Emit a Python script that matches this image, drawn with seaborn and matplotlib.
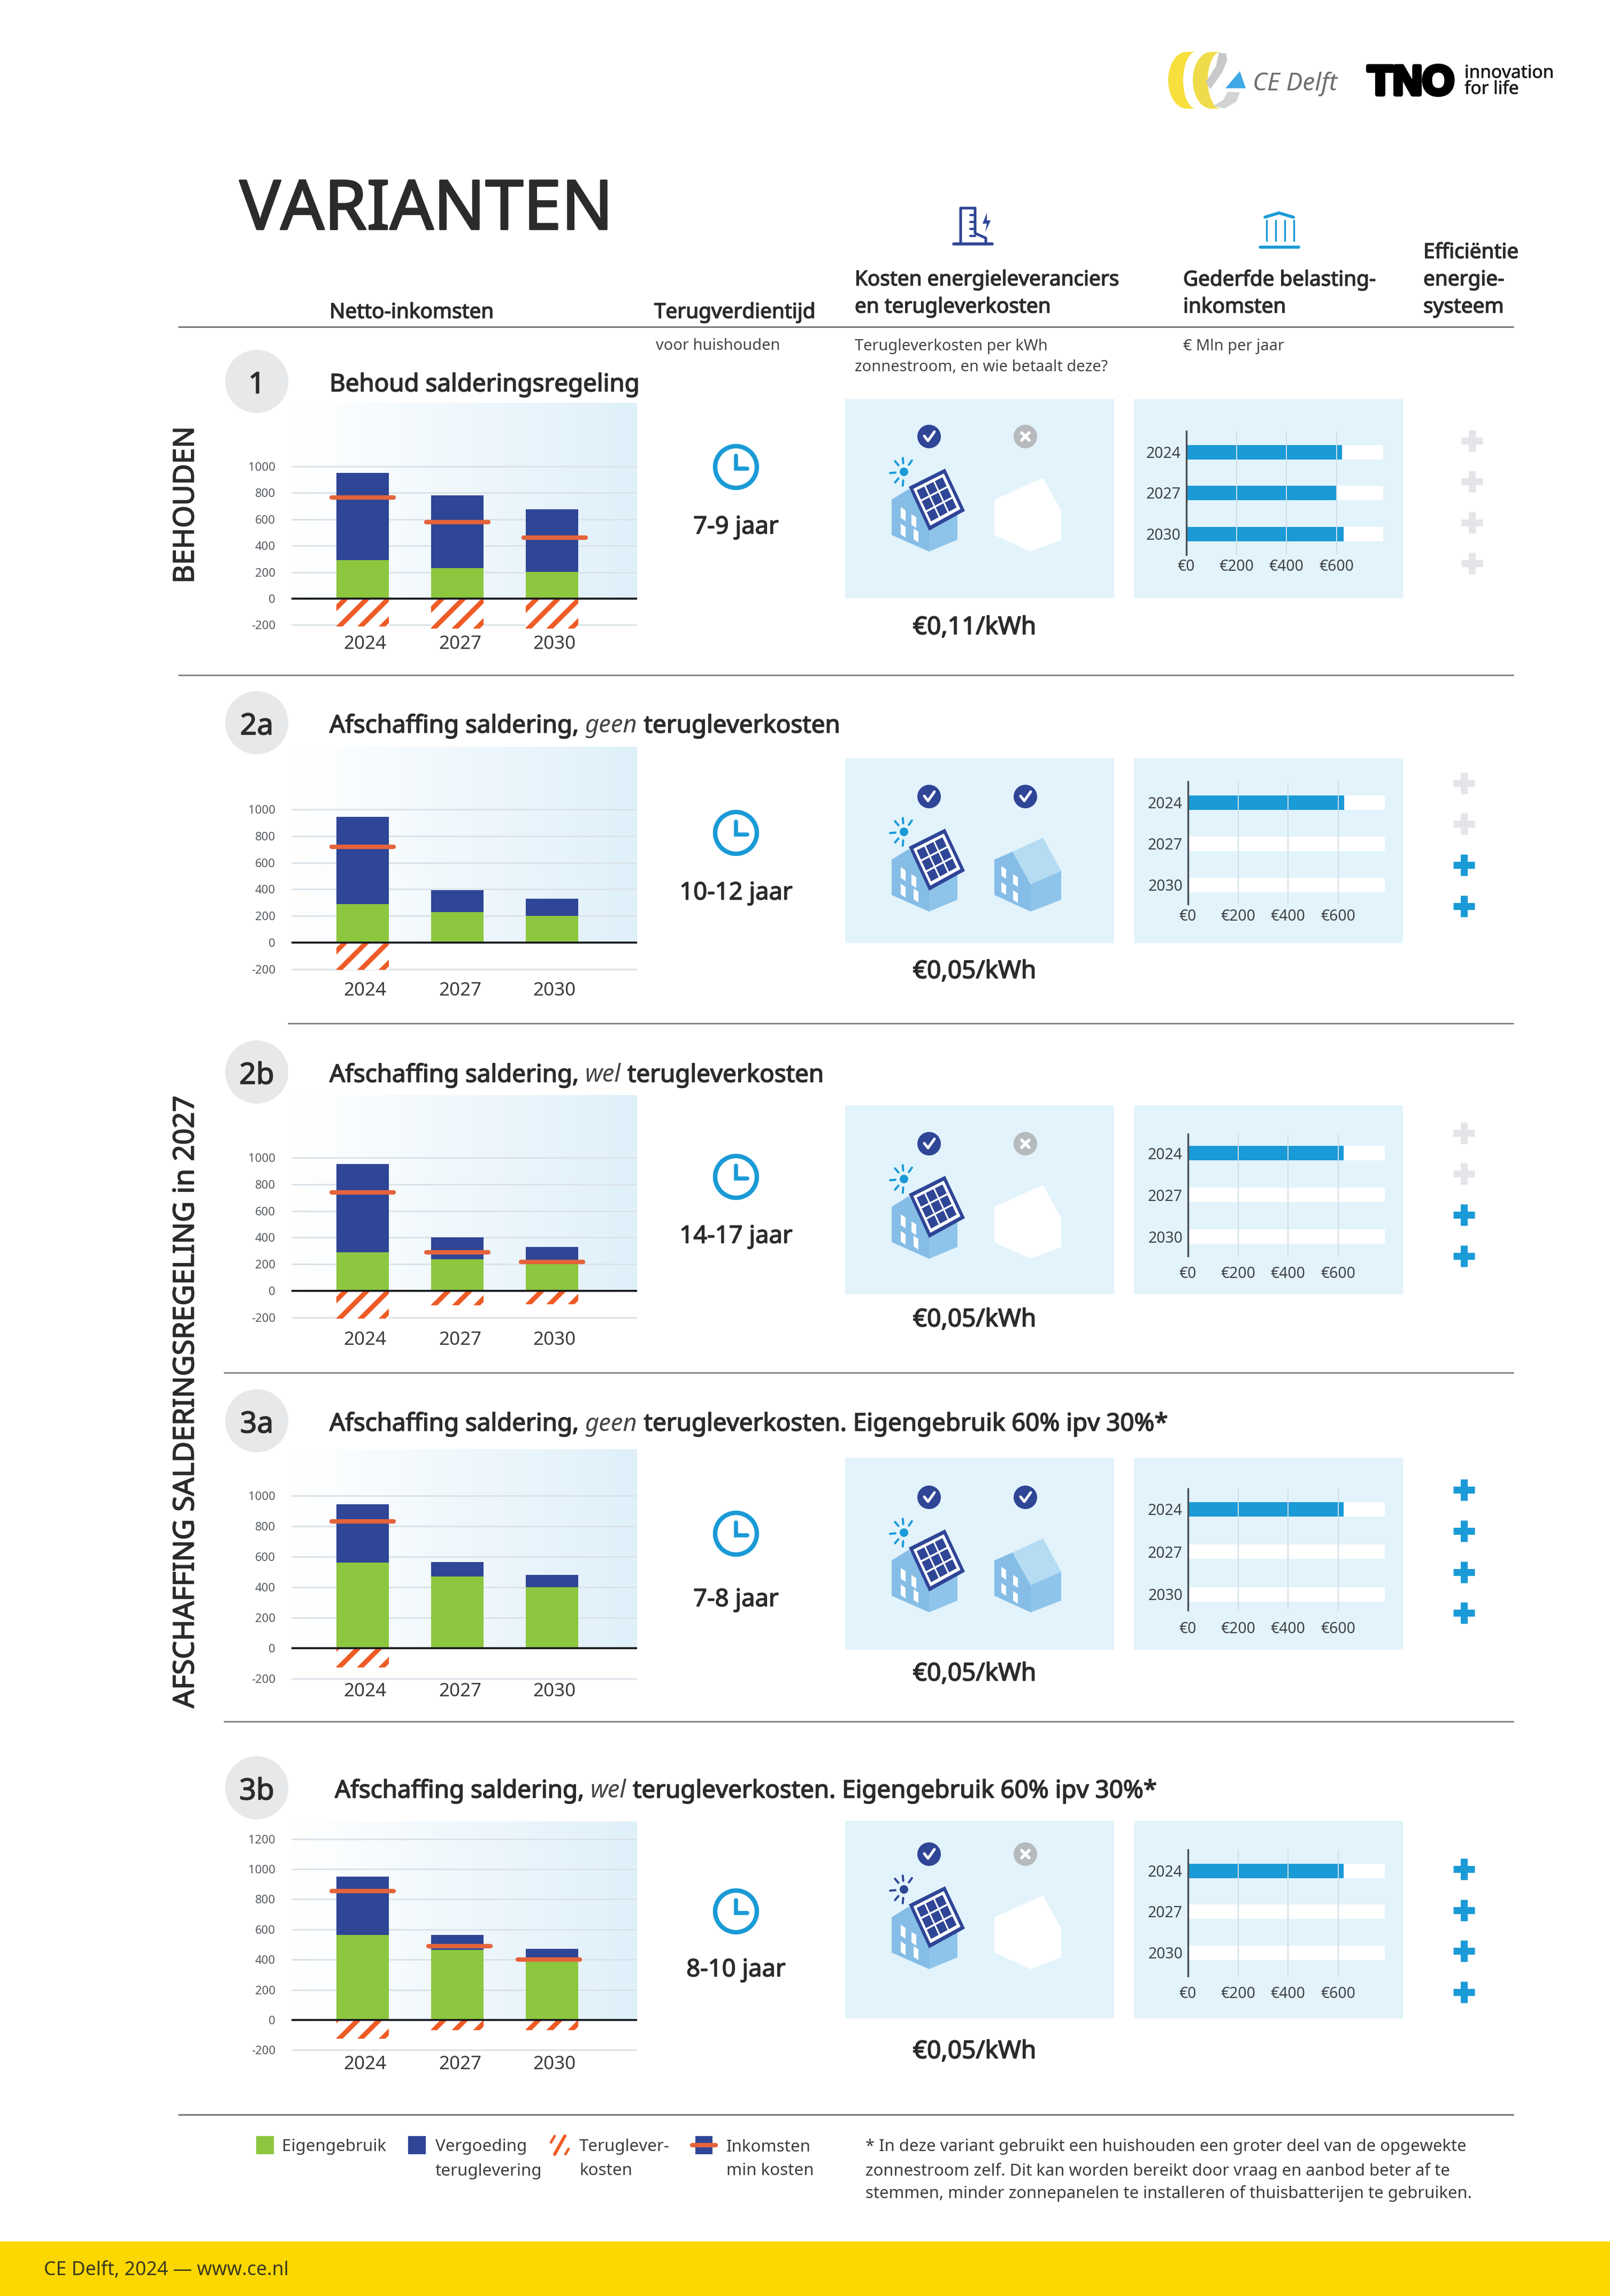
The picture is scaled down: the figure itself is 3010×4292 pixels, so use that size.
import numpy as np
import pandas as pd
import matplotlib
matplotlib.use('Agg')
import matplotlib.pyplot as plt
import matplotlib.patheffects as pe
import seaborn as sns
from matplotlib.colors import LinearSegmentedColormap
from matplotlib.lines import Line2D
from matplotlib.patches import Circle, Ellipse, Polygon, Rectangle
from matplotlib.transforms import ScaledTranslation

sns.set_theme(style='white')
plt.rcParams['font.family'] = ['Noto Sans', 'DejaVu Sans']

# data
YEARS = ['2024', '2027', '2030']

eigen_1 = [291, 231, 202]
verg_1 = [659, 549, 476]
kosten_1 = [-212, -225, -225]
inkomsten_1 = [765, 578, 460]
belasting_1 = [622, 603, 628]
plus_1 = [0, 0, 0, 0]

eigen_2a = [290, 230, 200]
verg_2a = [655, 165, 130]
kosten_2a = [-205, 0, 0]
inkomsten_2a = [720, None, None]
belasting_2a = [625, 0, 0]
plus_2a = [0, 0, 1, 1]

eigen_2b = [290, 235, 200]
verg_2b = [660, 165, 130]
kosten_2b = [-210, -110, -100]
inkomsten_2b = [740, 290, 215]
belasting_2b = [622, 0, 0]
plus_2b = [0, 0, 1, 1]

eigen_3a = [560, 470, 400]
verg_3a = [385, 95, 80]
kosten_3a = [-125, 0, 0]
inkomsten_3a = [830, None, None]
belasting_3a = [622, 0, 0]
plus_3a = [1, 1, 1, 1]

eigen_3b = [565, 466, 398]
verg_3b = [386, 99, 75]
kosten_3b = [-125, -67, -67]
inkomsten_3b = [856, 490, 402]
belasting_3b = [622, 0, 0]
plus_3b = [1, 1, 1, 1]

TRACK = [790, 790, 790]

NAVY = '#2f4596'
GREEN = '#8dc63f'
ORANGE = '#ef5b25'
RED = '#e4633c'
BLUE = '#1a9ad6'
PANEL = '#e2f3fb'
DARK = '#2b2b2b'
GREY = '#555a5f'
PLUS_OFF = '#e3e5e8'

W, H = 3010, 4292
DPI = 240

# pixel layout per row
ROWS = [
    dict(no='1', title=[('Behoud salderingsregeling', 0)], title_x=616, title_y=714,
         eigen=eigen_1, verg=verg_1, kosten=kosten_1, ink=inkomsten_1, bel=belasting_1, plus=plus_1,
         bg_top=753, y0=1119, y1000=872, label_y=1202, ticks=[-200, 0, 200, 400, 600, 800, 1000],
         line_shift=[0, 0, 5],
         clock_y=873, jaar='7-9 jaar', jaar_y=980, prijs='€0,11/kWh', prijs_y=1168,
         box=(746, 1118), check_y=816, both=False,
         bar_ys=(845, 921, 998), axis=(806, 1037), tick_y=1056, axis_x=2218,
         plus_x=2752, plus_ys=(824, 900, 977, 1053)),
    dict(no='2a', title=[('Afschaffing saldering,', 0), ('geen', 1), ('terugleverkosten', 0)], title_x=616, title_y=1352,
         eigen=eigen_2a, verg=verg_2a, kosten=kosten_2a, ink=inkomsten_2a, bel=belasting_2a, plus=plus_2a,
         bg_top=1396, y0=1762, y1000=1513, label_y=1850, ticks=[-200, 0, 200, 400, 600, 800, 1000],
         line_shift=[0, 0, 0],
         clock_y=1557, jaar='10-12 jaar', jaar_y=1664, prijs='€0,05/kWh', prijs_y=1811,
         box=(1417, 1763), check_y=1489, both=True,
         bar_ys=(1500, 1577, 1654), axis=(1461, 1690), tick_y=1710, axis_x=2221,
         plus_x=2737, plus_ys=(1464, 1540, 1617, 1694)),
    dict(no='2b', title=[('Afschaffing saldering,', 0), ('wel', 1), ('terugleverkosten', 0)], title_x=616, title_y=2005,
         eigen=eigen_2b, verg=verg_2b, kosten=kosten_2b, ink=inkomsten_2b, bel=belasting_2b, plus=plus_2b,
         bg_top=2047, y0=2413, y1000=2164, label_y=2503, ticks=[-200, 0, 200, 400, 600, 800, 1000],
         line_shift=[0, 0, 0],
         clock_y=2200, jaar='14-17 jaar', jaar_y=2306, prijs='€0,05/kWh', prijs_y=2462,
         box=(2066, 2419), check_y=2138, both=False,
         bar_ys=(2156, 2235, 2312), axis=(2120, 2348), tick_y=2378, axis_x=2221,
         plus_x=2737, plus_ys=(2118, 2194, 2271, 2348)),
    dict(no='3a', title=[('Afschaffing saldering,', 0), ('geen', 1), ('terugleverkosten. Eigengebruik 60% ipv 30%*', 0)], title_x=616, title_y=2657,
         eigen=eigen_3a, verg=verg_3a, kosten=kosten_3a, ink=inkomsten_3a, bel=belasting_3a, plus=plus_3a,
         bg_top=2709, y0=3081, y1000=2796, label_y=3160, ticks=[-200, 0, 200, 400, 600, 800, 1000],
         line_shift=[0, 0, 0],
         clock_y=2867, jaar='7-8 jaar', jaar_y=2985, prijs='€0,05/kWh', prijs_y=3124,
         box=(2725, 3084), check_y=2799, both=True,
         bar_ys=(2821, 2900, 2980), axis=(2783, 3010), tick_y=3042, axis_x=2221,
         plus_x=2737, plus_ys=(2785, 2862, 2939, 3015)),
    dict(no='3b', title=[('Afschaffing saldering,', 0), ('wel', 1), ('terugleverkosten. Eigengebruik 60% ipv 30%*', 0)], title_x=626, title_y=3343,
         eigen=eigen_3b, verg=verg_3b, kosten=kosten_3b, ink=inkomsten_3b, bel=belasting_3b, plus=plus_3b,
         bg_top=3405, y0=3776, y1000=3494, label_y=3857, ticks=[-200, 0, 200, 400, 600, 800, 1000, 1200],
         line_shift=[0, 4, -6],
         clock_y=3573, jaar='8-10 jaar', jaar_y=3677, prijs='€0,05/kWh', prijs_y=3830,
         box=(3404, 3773), check_y=3466, both=False, dark_sun=True,
         bar_ys=(3497, 3573, 3650), axis=(3458, 3694), tick_y=3724, axis_x=2221,
         plus_x=2737, plus_ys=(3494, 3571, 3647, 3724)),
]

fig = plt.figure(figsize=(W / DPI, H / DPI), dpi=DPI, facecolor='white')
ov = fig.add_axes([0, 0, 1, 1], zorder=0)
ov.set_axis_off()


def reset_overlay():
    ov.set_xlim(0, W)
    ov.set_ylim(H, 0)


reset_overlay()


def box_axes(x0, y0, x1, y1):
    ax = fig.add_axes([x0 / W, 1 - y1 / H, (x1 - x0) / W, (y1 - y0) / H], zorder=2)
    ax.patch.set_alpha(0)
    return ax


def put(x, y, s, size, heavy=0, ha='left', color=DARK, **kw):
    # geen semibold beschikbaar, dus dikker maken met een dunne rand
    t = ov.text(x, y, s, fontsize=size, ha=ha, va='center_baseline', color=color, **kw)
    if heavy:
        t.set_path_effects([pe.withStroke(linewidth=heavy, foreground=color)])
    return t


def poly(points, color, dx=0, dy=0, z=3):
    ov.add_patch(Polygon([(px + dx, py + dy) for px, py in points], closed=True, fc=color, ec='none', zorder=z))


def stripe_bar(ax, bar, step=40):
    # oranje schuine strepen, geknipt op de balk
    bb = bar.get_window_extent()
    if bb.height < 1:
        return
    h = bb.height + 20
    bottom, top = H - bb.y0 + 10, H - bb.y1 - 10
    for xs in np.arange(bb.x0 + 5 - 10 - 4 * step, bb.x1 + 10, step):
        line = Line2D([xs, xs + h], [bottom, top], color=ORANGE, lw=2.7, transform=ov.transData,
                      solid_capstyle='butt', zorder=3)
        ax.add_line(line)
        line.set_clip_path(bar)


def mixed_title(x, y, parts):
    renderer = fig.canvas.get_renderer()
    for part, italic in parts:
        if italic:
            t = put(x, y, part, 13.6, style='italic', color='#444444')
        else:
            t = put(x, y, part, 13.7, heavy=0.5)
        x += t.get_window_extent(renderer).width + 12


def draw_income_chart(row):
    unit = (row['y0'] - row['y1000']) / 1000
    bottom_px = row['y0'] + 200 * unit + 6
    ax = box_axes(545, row['bg_top'], 1191, bottom_px)
    df = pd.DataFrame({
        'jaar': YEARS,
        'eigen': row['eigen'],
        'totaal': np.add(row['eigen'], row['verg']),
        'kosten': row['kosten'],
    })
    sns.barplot(data=df, x='jaar', y='totaal', color=NAVY, saturation=1, width=0.554, linewidth=0, ax=ax)
    sns.barplot(data=df, x='jaar', y='eigen', color=GREEN, saturation=1, width=0.554, linewidth=0, ax=ax)
    n_before = len(ax.patches)
    sns.barplot(data=df, x='jaar', y='kosten', color='white', saturation=1, width=0.554, linewidth=0, ax=ax)
    for i, val in enumerate(row['ink']):
        if val is not None:
            mid = i + row['line_shift'][i] / 177
            ax.hlines(val, mid - 0.33, mid + 0.33, color=RED, lw=2.5, capstyle='round', zorder=5)
    ax.axhline(0, color='#15181c', lw=1.1, zorder=4)
    ax.set_xlim((545 - 678) / 177, (1191 - 678) / 177)
    ax.set_ylim((row['y0'] - bottom_px) / unit, (row['y0'] - row['bg_top']) / unit)
    for bar in ax.patches[n_before:]:
        stripe_bar(ax, bar)
    ax.set_yticks(row['ticks'])
    ax.set_yticklabels([str(v) for v in row['ticks']])
    ax.set_xlabel('')
    ax.set_ylabel('')
    ax.grid(axis='y', color='#dbe3e9', lw=0.9)
    ax.grid(axis='x', visible=False)
    ax.set_axisbelow(True)
    sns.despine(ax=ax, left=True, bottom=True)
    ax.tick_params(axis='y', length=0, pad=9, labelsize=6.6, labelcolor=GREY)
    ax.tick_params(axis='x', length=0, labelsize=10.5, labelcolor='#3a3d40',
                   pad=(row['label_y'] - 15 - bottom_px) * 72 / DPI)
    shift = ScaledTranslation(5 / DPI, 0, fig.dpi_scale_trans)
    for lab in ax.get_xticklabels():
        lab.set_transform(lab.get_transform() + shift)


def draw_tax_chart(row):
    top, bottom = row['axis']
    c0, c1, c2 = row['bar_ys']
    step = (c2 - c0) / 2
    x0 = row['axis_x']
    ax = box_axes(x0, top, x0 + 368, bottom)
    df = pd.DataFrame({'jaar': YEARS, 'track': TRACK, 'bel': row['bel']})
    sns.barplot(data=df, x='track', y='jaar', orient='h', color='white', saturation=1, width=27 / step, linewidth=0, ax=ax)
    ax.vlines([200, 400, 600], -5, 5, color='#cfdde6', lw=0.6)
    sns.barplot(data=df, x='bel', y='jaar', orient='h', color=BLUE, saturation=1, width=27 / step, linewidth=0, ax=ax)
    ax.set_xlim(0, 787)
    ax.set_ylim((bottom - c0) / step, (top - c0) / step)
    ax.set_xticks([0, 200, 400, 600])
    ax.set_xticklabels(['€0', '€200', '€400', '€600'])
    ax.set_xlabel('')
    ax.set_ylabel('')
    ax.grid(False)
    sns.despine(ax=ax, bottom=True)
    ax.spines['left'].set_color('#4a4f55')
    ax.spines['left'].set_linewidth(1.0)
    ax.tick_params(axis='both', length=0, labelsize=8.5, labelcolor='#3f4347')
    ax.tick_params(axis='x', pad=(row['tick_y'] - 11 - bottom) * 72 / DPI)
    ax.tick_params(axis='y', pad=3)


def draw_badge(cx, cy, ok):
    ov.add_patch(Circle((cx, cy), 22, fc=NAVY if ok else '#b6babd', ec='none', zorder=3))
    if ok:
        ov.plot([cx - 9, cx - 2, cx + 10], [cy - 1, cy + 8, cy - 9], color='white', lw=1.5, zorder=4)
    else:
        ov.plot([cx - 7, cx + 7], [cy - 7, cy + 7], color='white', lw=1.7, zorder=4)
        ov.plot([cx - 7, cx + 7], [cy + 7, cy - 7], color='white', lw=1.7, zorder=4)


def draw_solar_house(cx, cy, sun_color):
    mid = '#85bde6'
    poly([(-70, 118), (-38, 98), (0, 150), (0, 174), (0, 215), (-70, 184)], mid, cx, cy)
    poly([(0, 174), (53, 130), (53, 193), (0, 215)], '#8fc4ea', cx, cy)
    for wx, wy in [(-53, 132), (-33, 145), (-53, 163), (-29, 172)]:
        poly([(wx, wy), (wx + 9, wy + 6), (wx + 9, wy + 26), (wx, wy + 20)], 'white', cx, cy, z=4)
    a, b, c, d = [np.array(p, float) for p in [(-38, 94), (30, 60), (67, 139), (0, 176)]]

    def quad(u, v):
        return tuple((1 - v) * ((1 - u) * a + u * b) + v * ((1 - u) * d + u * c))
    poly([quad(0, 0), quad(1, 0), quad(1, 1), quad(0, 1)], NAVY, cx, cy, z=5)
    poly([quad(.08, .08), quad(.92, .08), quad(.92, .92), quad(.08, .92)], 'white', cx, cy, z=6)
    for i in range(3):
        for j in range(3):
            u0 = .14 + i * .25
            v0 = .14 + j * .25
            poly([quad(u0, v0), quad(u0 + .21, v0), quad(u0 + .21, v0 + .21), quad(u0, v0 + .21)], NAVY, cx, cy, z=7)
    sx, sy = cx - 47, cy + 66
    ov.add_patch(Circle((sx, sy), 8, fc=sun_color, ec='none', zorder=4))
    for ang in [-130, -95, -55, 175, 130, 95]:
        r = np.radians(ang)
        ov.plot([sx + 16 * np.cos(r), sx + 26 * np.cos(r)], [sy + 16 * np.sin(r), sy + 26 * np.sin(r)],
                color=sun_color, lw=1.2, zorder=4, solid_capstyle='round')


def draw_plain_house(cx, cy, filled):
    if not filled:
        poly([(-58, 118), (33, 77), (67, 139), (67, 193), (10, 215), (-58, 184)], 'white', cx, cy)
        return
    light, mid = '#b5dcf3', '#85bde6'
    poly([(-58, 118), (-24, 103), (10, 164), (10, 215), (-58, 184)], mid, cx, cy)
    poly([(-24, 103), (33, 77), (67, 139), (10, 164)], light, cx, cy)
    poly([(10, 164), (67, 139), (67, 193), (10, 215)], '#8fc4ea', cx, cy)
    for wx, wy in [(-45, 130), (-23, 145), (-45, 160), (-23, 175)]:
        poly([(wx, wy), (wx + 9, wy + 6), (wx + 9, wy + 24), (wx, wy + 18)], 'white', cx, cy, z=4)


def draw_clock(cx, cy):
    ov.add_patch(Circle((cx, cy), 39, fc='none', ec=BLUE, lw=2.5, zorder=3))
    ov.plot([cx, cx, cx + 21], [cy - 21, cy + 3, cy + 3], color=BLUE, lw=2.3, zorder=3, solid_joinstyle='miter')


def draw_row(row):
    ov.add_patch(Ellipse((480, row['title_y'] - 1), 118, 118, fc='#e6e8ea', ec='none', zorder=1))
    put(480, row['title_y'], row['no'], 16.5, heavy=0.5, ha='center')
    mixed_title(row['title_x'], row['title_y'], row['title'])

    grad = np.linspace(0, 1, 256)[None, :]
    ov.imshow(grad, extent=(547, 1191, row['y0'], row['bg_top']), aspect='auto', zorder=0.5,
              cmap=LinearSegmentedColormap.from_list('bg', ['#ffffff', '#dff0fa']))
    reset_overlay()
    draw_income_chart(row)

    draw_clock(1376, row['clock_y'])
    put(1376, row['jaar_y'], row['jaar'], 13.6, heavy=0.45, ha='center')

    top, bottom = row['box']
    ov.add_patch(Rectangle((1580, top), 503, bottom - top, fc=PANEL, ec='none', zorder=1))
    ov.add_patch(Rectangle((2120, top), 503, bottom - top, fc=PANEL, ec='none', zorder=1))
    draw_badge(1737, row['check_y'], True)
    draw_badge(1917, row['check_y'], row['both'])
    draw_solar_house(1737, row['check_y'], NAVY if row.get('dark_sun') else BLUE)
    draw_plain_house(1917, row['check_y'], row['both'])
    put(1822, row['prijs_y'], row['prijs'], 13.8, heavy=0.5, ha='center')

    draw_tax_chart(row)

    for py, on in zip(row['plus_ys'], row['plus']):
        ov.plot([row['plus_x']], [py], marker='+', ms=12, mew=3.9, color=BLUE if on else PLUS_OFF, zorder=3, ls='')


def swoosh(cx, color):
    t = np.radians(np.linspace(90, 270, 40))
    outer = [(cx + 34 * np.cos(a), 150 + 53 * np.sin(a)) for a in t]
    inner = [(cx + 10 + 24 * np.cos(a) + 8, 150 + 53 * np.sin(a)) for a in t[::-1]]
    poly(outer + inner, color)


def draw_logos():
    swoosh(2218, '#f7df3e')
    swoosh(2264, '#f0dc4a')
    zoom_pts = [(330, 145), (355, 150), (358, 190), (340, 260), (300, 350), (285, 310), (320, 220)]
    poly([(2100 + zx / 1.845, 50 + zy / 3) for zx, zy in zoom_pts], '#c6c8ca')
    zoom_pts = [(360, 365), (402, 368), (390, 420), (350, 458), (310, 445), (345, 410)]
    poly([(2100 + zx / 1.845, 50 + zy / 3) for zx, zy in zoom_pts], '#d2d3d5')
    poly([(2291, 165), (2329, 165), (2318, 133)], '#3fa9e6')
    put(2342, 152, 'CE Delft', 13.8, color='#6d7072', style='italic')
    t = put(2557, 148, 'TNO', 23, color='black', family=['Liberation Sans', 'DejaVu Sans'], fontweight='bold')
    t.set_path_effects([pe.withStroke(linewidth=2.4, foreground='black')])
    put(2738, 133, 'innovation', 10, heavy=0.2, color='#1a1a1a')
    put(2738, 163, 'for life', 10, heavy=0.2, color='#1a1a1a')


def draw_header():
    put(448, 380, 'VARIANTEN', 38.3, heavy=1.0)
    size = 11.6
    put(616, 580, 'Netto-inkomsten', size, heavy=0.45)
    put(1223, 580, 'Terugverdientijd', size, heavy=0.45)
    put(1598, 519, 'Kosten energieleveranciers', size, heavy=0.45)
    put(1598, 570, 'en terugleverkosten', size, heavy=0.45)
    put(2212, 519, 'Gederfde belasting-', size, heavy=0.45)
    put(2212, 570, 'inkomsten', size, heavy=0.45)
    put(2661, 468, 'Efficiëntie', size, heavy=0.45)
    put(2661, 519, 'energie-', size, heavy=0.45)
    put(2661, 570, 'systeem', size, heavy=0.45)
    put(1226, 643, 'voor huishouden', 8.7, color='#444444')
    put(1598, 644, 'Terugleverkosten per kWh', 8.7, color='#444444')
    put(1598, 683, 'zonnestroom, en wie betaalt deze?', 8.7, color='#444444')
    put(2212, 644, '€ Mln per jaar', 8.7, color='#444444')

    # gebouw icoon
    ov.plot([1783, 1855], [456, 456], color=NAVY, lw=1.7)
    ov.plot([1796, 1796, 1823, 1823, 1843, 1843], [456, 389, 389, 436, 445, 456], color=NAVY, lw=1.5)
    for ty in [402, 415, 428, 441]:
        ov.plot([1814, 1823], [ty, ty], color=NAVY, lw=1.2)
    poly([(1845, 398), (1837, 418), (1845, 418), (1842, 434), (1852, 412), (1845, 412)], NAVY)
    # bank icoon
    ov.plot([2356, 2428], [462, 462], color=BLUE, lw=1.7)
    ov.plot([2365, 2391, 2418], [406, 398, 406], color=BLUE, lw=1.7)
    for cx in [2368, 2385, 2402, 2419]:
        ov.plot([cx, cx], [412, 450], color=BLUE, lw=1.0)


def draw_frame():
    ov.plot([334, 2829], [611, 611], color='#77797c', lw=0.9)
    ov.plot([334, 2829], [1262, 1262], color='#77797c', lw=0.8)
    ov.plot([539, 2829], [1913, 1913], color='#77797c', lw=0.8)
    ov.plot([419, 2829], [2566, 2566], color='#77797c', lw=0.8)
    ov.plot([419, 2829], [3218, 3218], color='#77797c', lw=0.8)
    ov.plot([334, 2829], [3953, 3953], color='#77797c', lw=0.9)
    put(342, 944, 'BEHOUDEN', 16, heavy=0.5, ha='center', rotation=90, rotation_mode='anchor')
    put(342, 2620, 'AFSCHAFFING SALDERINGSREGELING in 2027', 16.1, heavy=0.5, ha='center', rotation=90,
        rotation_mode='anchor')


def draw_legend():
    txt = '#3a3d40'
    ov.add_patch(Rectangle((479, 3993), 33, 34, fc=GREEN, ec='none'))
    put(527, 4010, 'Eigengebruik', 9.4, color=txt)
    ov.add_patch(Rectangle((763, 3993), 33, 34, fc=NAVY, ec='none'))
    put(814, 4010, 'Vergoeding', 9.4, color=txt)
    put(814, 4055, 'teruglevering', 9.4, color=txt)
    ov.plot([1037, 1056], [4027, 3993], color=ORANGE, lw=1.8)
    ov.plot([1030, 1037], [4005, 3993], color=ORANGE, lw=1.4)
    ov.plot([1057, 1063], [4027, 4017], color=ORANGE, lw=1.4)
    put(1083, 4010, 'Teruglever-', 9.4, color=txt)
    put(1083, 4055, 'kosten', 9.4, color=txt)
    ov.add_patch(Rectangle((1300, 3993), 32, 34, fc=NAVY, ec='none', zorder=2))
    ov.plot([1294, 1338], [4010, 4010], color=RED, lw=2.5, zorder=3, solid_capstyle='round')
    put(1358, 4010, 'Inkomsten', 9.4, color=txt)
    put(1358, 4055, 'min kosten', 9.4, color=txt)
    put(1618, 4010, '* In deze variant gebruikt een huishouden een groter deel van de opgewekte', 9.3, color=txt)
    put(1618, 4055, 'zonnestroom zelf. Dit kan worden bereikt door vraag en aanbod beter af te', 9.3, color=txt)
    put(1618, 4097, 'stemmen, minder zonnepanelen te installeren of thuisbatterijen te gebruiken.', 9.3, color=txt)
    ov.add_patch(Rectangle((0, 4190), W, 102, fc='#fdd800', ec='none', zorder=1))
    put(82, 4240, 'CE Delft, 2024 — www.ce.nl', 10.7, color='#3a3a20')


draw_logos()
draw_header()
draw_frame()
for row in ROWS:
    draw_row(row)
draw_legend()
reset_overlay()

fig.savefig('out.png', dpi=DPI)
